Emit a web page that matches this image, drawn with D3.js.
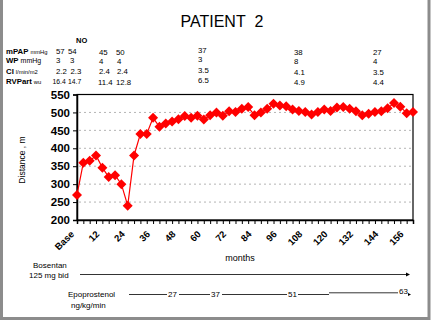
<!DOCTYPE html>
<html><head><meta charset="utf-8">
<script src="https://cdn.jsdelivr.net/npm/d3@7"></script>
<style>
body{margin:0;background:#fff;}
text{font-family:"Liberation Sans",Arial,sans-serif;fill:#000;}
</style></head><body>
<svg id="c" width="431" height="324"></svg>
<script>
// ---- data ----
const distance = [270,360,365,380,346,320,325,300,240,380,440,440,485,460,469,475,481,490,485,491,480,492,500,491,503,501,510,515,492,500,510,524,519,517,508,504,501,494,501,508,504,514,515,510,503,492,496,501,503,512,526,516,498,501];
const monthStep = 3;
const tickLabelEvery = 4;
const yTicks = [200,250,300,350,400,450,500,550];
const tableRows = [
  {name:"mPAP", unit:"mmHg"},
  {name:"WP", unit:"mmHg"},
  {name:"CI", unit:"l/min/m2"},
  {name:"RVPart", unit:"wu"}
];
const mPAP   = ["57","54","45","50","37","38","27"];
const WP     = ["3","3","4","4","3","8","4"];
const CI     = ["2.2","2.3","2.4","2.4","3.5","4.1","3.5"];
const RVPart = ["16.4","14.7","11.4","12.8","6.5","4.9","4.4"];
const epoDoses = ["27","37","51","63"];

const svg = d3.select("#c");
// frame
svg.append("rect").attr("x",1.5).attr("y",-2).attr("width",427.5).attr("height",320.5)
  .attr("fill","none").attr("stroke","#8c8c8c").attr("stroke-width",3);

// title
svg.append("text").attr("x",222).attr("y",27).attr("text-anchor","middle")
  .attr("font-size",16).text("PATIENT\u00a0\u00a02");

// table
svg.append("text").attr("x",76).attr("y",43).attr("font-size",7.5).attr("font-weight","bold").text("NO");
const colX = [
  [56,68,99,116,198,294,373],
  [56,70,99,117,198,294,373],
  [56,70.5,99,117,198,294,373],
  [52.5,68,98,116,198,294,373]
];
const rowY = [54,63,73.5,84];
const colDy = [0,0,0.5,0.5,-1,1,1];
const tableVals = [mPAP, WP, CI, RVPart];
tableRows.forEach((r,i)=>{
  const t = svg.append("text").attr("x",6).attr("y",rowY[i]).attr("font-size",7.8);
  t.append("tspan").attr("font-weight","bold").text(r.name);
  t.append("tspan").attr("font-size", r.name==="WP"?7:5.8).attr("dx",2).text(r.unit);
  tableVals[i].forEach((v,j)=>{
    svg.append("text").attr("x",colX[i][j]).attr("y",rowY[i]+colDy[j])
      .attr("font-size",(i===3&&j<2)?6.8:7.8).text(v);
  });
});

// plot
const x0=77, x1=413, yTop=94.5, yBot=220;
const x = d3.scaleLinear().domain([0,distance.length-1]).range([x0,x1]);
const y = d3.scaleLinear().domain([200,550]).range([yBot,yTop]);

// grid
svg.append("g").selectAll("line").data(yTicks.filter(v=>v>200&&v<550)).join("line")
  .attr("x1",x0+2).attr("x2",x1-2).attr("y1",d=>y(d)).attr("y2",d=>y(d))
  .attr("stroke","#b4b4b4").attr("stroke-dasharray","2,3").attr("stroke-width",1);

// frame of plot
svg.append("rect").attr("x",x0).attr("y",yTop).attr("width",x1-x0).attr("height",yBot-yTop)
  .attr("fill","none").attr("stroke","#000").attr("stroke-width",1.2);

// y axis
const ya = svg.append("g").attr("transform",`translate(${x0},0)`)
  .call(d3.axisLeft(y).tickValues(yTicks).tickSize(4).tickPadding(3));
ya.select(".domain").attr("stroke","#000").attr("stroke-width",1.5);
ya.selectAll("text").attr("font-size",11.5).attr("font-weight","bold").attr("font-family","Liberation Sans, Arial, sans-serif");
svg.append("text").attr("transform","translate(25,160) rotate(-90)").attr("text-anchor","middle")
  .attr("font-size",8.5).text("Distance , m");

// x axis
const idx = d3.range(distance.length);
const xa = svg.append("g").attr("transform",`translate(0,${yBot})`)
  .call(d3.axisBottom(x).tickValues(idx).tickSize(4).tickFormat(""));
xa.select(".domain").attr("stroke","#000").attr("stroke-width",1.5);
const labIdx = idx.filter(i=>i%tickLabelEvery===0);
svg.append("g").selectAll("text").data(labIdx).join("text")
  .attr("transform",d=>`translate(${x(d)-7},${yBot+10}) rotate(-45)`)
  .attr("text-anchor","end").attr("dy","0.7em").attr("font-size",9.5).attr("font-weight","bold")
  .text(d=>d===0?"Base":String(d*monthStep));
svg.append("text").attr("x",240).attr("y",261).attr("text-anchor","middle").attr("font-size",9).text("months");

// line & markers
svg.append("path").datum(distance)
  .attr("d",d3.line().x((d,i)=>x(i)).y(d=>y(d)))
  .attr("fill","none").attr("stroke","#ff0000").attr("stroke-width",1.2);
svg.append("g").selectAll("path").data(distance).join("path")
  .attr("transform",(d,i)=>`translate(${x(i)},${y(d)})`)
  .attr("d","M0,-5L5,0L0,5L-5,0Z").attr("fill","#ff0000");

// treatment annotations
svg.append("text").attr("x",33).attr("y",268).attr("font-size",8).text("Bosentan");
svg.append("text").attr("x",29).attr("y",278).attr("font-size",8).text("125 mg bid");
svg.append("line").attr("x1",80).attr("x2",407).attr("y1",274.5).attr("y2",274.5).attr("stroke","#000").attr("stroke-width",0.8);
svg.append("path").attr("d","M406,272.5L410,274.5L406,276.5Z").attr("fill","#000");

svg.append("text").attr("x",68).attr("y",297).attr("font-size",8).text("Epoprostenol");
svg.append("text").attr("x",71).attr("y",308).attr("font-size",8).text("ng/kg/min");
const epoLabX = [168,211,288,399];
const segs = [[129,167,294.5],[179,210,294.5],[222,287,294.5],[298,329,294.5],[329,398,292.8]];
segs.forEach(s=>svg.append("line").attr("x1",s[0]).attr("x2",s[1]).attr("y1",s[2]).attr("y2",s[2])
  .attr("stroke","#000").attr("stroke-width",0.8));
epoDoses.forEach((d,i)=>svg.append("text").attr("x",epoLabX[i]).attr("y",i===3?294:297).attr("font-size",8).text(d));
svg.append("path").attr("d","M408,293L411,294.5L408,296Z").attr("fill","#000");
</script>
</body></html>
